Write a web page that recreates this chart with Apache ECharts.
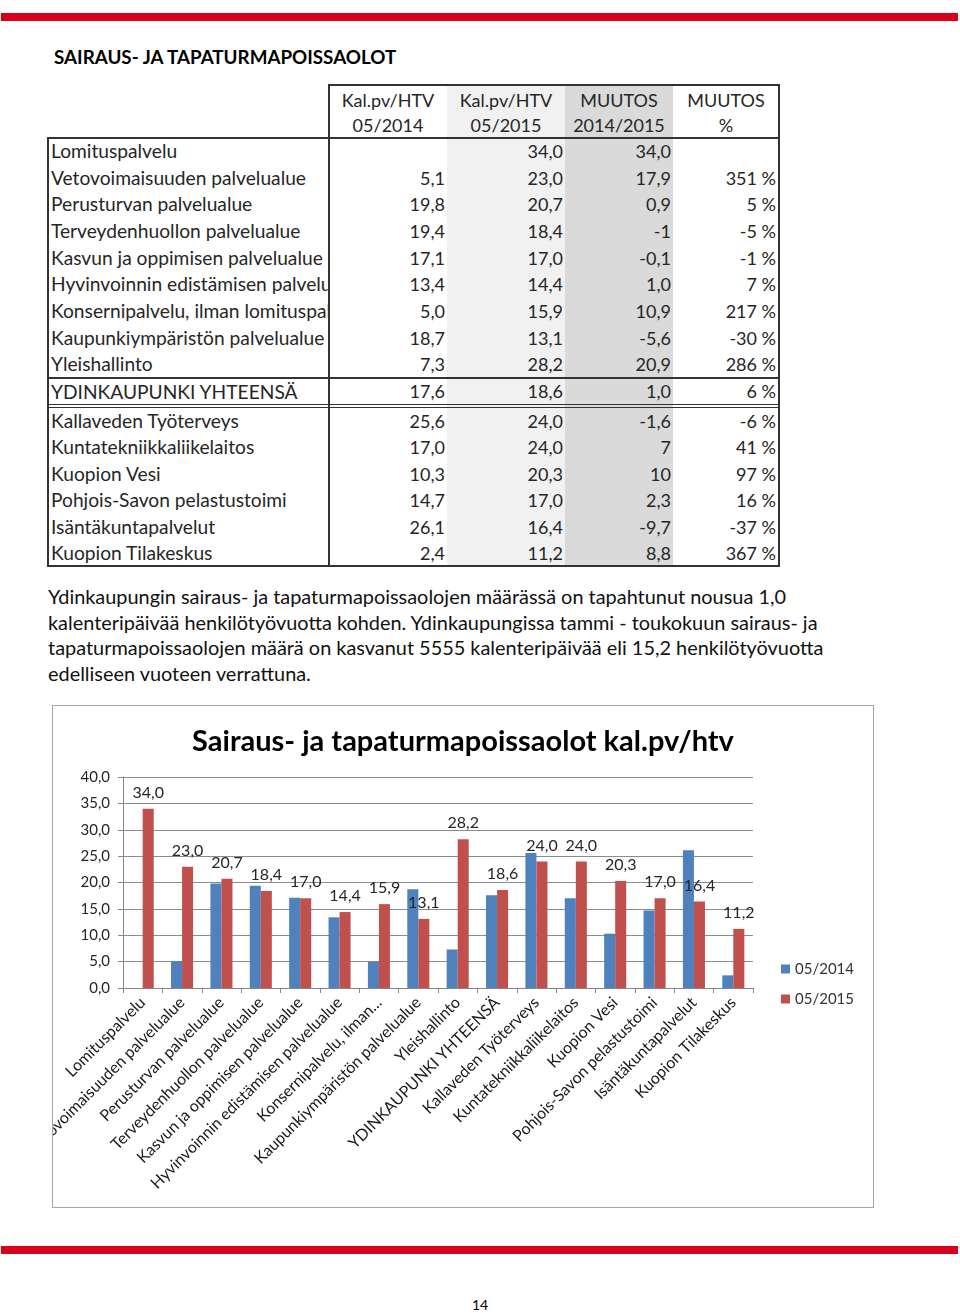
<!DOCTYPE html>
<html><head><meta charset="utf-8">
<script src="https://cdn.jsdelivr.net/npm/echarts@6/dist/echarts.min.js"></script>
<style>
html,body{margin:0;padding:0;background:#fff;}
body{width:960px;height:1313px;position:relative;overflow:hidden;font-family:Lato,'Noto Sans',sans-serif;color:#1a1a1a;}
.redline{position:absolute;left:1px;width:957px;height:8px;background:#d9001b;}
.h1{position:absolute;left:54px;top:45px;font-weight:bold;font-size:18.8px;line-height:24px;white-space:nowrap;color:#000;}
.cell{position:absolute;white-space:nowrap;overflow:hidden;font-size:18px;color:#262626;}
.lab{font-size:19.2px;}
.hl{position:absolute;background:#333;}
.para{position:absolute;left:48px;top:584px;font-size:19.9px;line-height:25.7px;white-space:nowrap;color:#111;}
#chartbox{position:absolute;left:52px;top:705px;width:822px;height:503px;box-sizing:border-box;border:1px solid #a6a6a6;}
#chart{position:absolute;left:0;top:0;width:820px;height:501px;}
.pnum{position:absolute;left:0;width:960px;top:1296px;text-align:center;font-size:14px;color:#000;}
</style></head>
<body>
<div class="redline" style="top:13px"></div>
<div class="h1">SAIRAUS- JA TAPATURMAPOISSAOLOT</div>
<div id="table"></div>
<div class="para">Ydinkaupungin sairaus- ja tapaturmapoissaolojen määrässä on tapahtunut nousua 1,0<br>kalenteripäivää henkilötyövuotta kohden. Ydinkaupungissa tammi - toukokuun sairaus- ja<br>tapaturmapoissaolojen määrä on kasvanut 5555 kalenteripäivää eli 15,2 henkilötyövuotta<br>edelliseen vuoteen verrattuna.</div>
<div id="chartbox"><div id="chart"></div></div>
<div class="redline" style="top:1246px"></div>
<div class="pnum">14</div>
<script>
// ---- data ----
const categories = ['Lomituspalvelu','Vetovoimaisuuden palvelualue','Perusturvan palvelualue','Terveydenhuollon palvelualue','Kasvun ja oppimisen palvelualue','Hyvinvoinnin edistämisen palvelualue','Konsernipalvelu, ilman lomituspalvelua','Kaupunkiympäristön palvelualue','Yleishallinto','YDINKAUPUNKI YHTEENSÄ','Kallaveden Työterveys','Kuntatekniikkaliikelaitos','Kuopion Vesi','Pohjois-Savon pelastustoimi','Isäntäkuntapalvelut','Kuopion Tilakeskus'];
const chartLabels = ['Lomituspalvelu','Vetovoimaisuuden palvelualue','Perusturvan palvelualue','Terveydenhuollon palvelualue','Kasvun ja oppimisen palvelualue','Hyvinvoinnin edistämisen palvelualue','Konsernipalvelu, ilman...','Kaupunkiympäristön palvelualue','Yleishallinto','YDINKAUPUNKI YHTEENSÄ','Kallaveden Työterveys','Kuntatekniikkaliikelaitos','Kuopion Vesi','Pohjois-Savon pelastustoimi','Isäntäkuntapalvelut','Kuopion Tilakeskus'];
const values2014 = [null,5.1,19.8,19.4,17.1,13.4,5.0,18.7,7.3,17.6,25.6,17.0,10.3,14.7,26.1,2.4];
const values2015 = [34.0,23.0,20.7,18.4,17.0,14.4,15.9,13.1,28.2,18.6,24.0,24.0,20.3,17.0,16.4,11.2];
const changeText = ['34,0','17,9','0,9','-1','-0,1','1,0','10,9','-5,6','20,9','1,0','-1,6','7','10','2,3','-9,7','8,8'];
const changePct = ['','351 %','5 %','-5 %','-1 %','7 %','217 %','-30 %','286 %','6 %','-6 %','41 %','97 %','16 %','-37 %','367 %'];
const seriesNames = ['05/2014','05/2015'];
const headers = [['Kal.pv/HTV','05/2014'],['Kal.pv/HTV','05/2015'],['MUUTOS','2014/2015'],['MUUTOS','%']];
const yTicks = {min:0,max:40,interval:5};

const fmt = v => (v==null? '' : v.toFixed(1).replace('.', ','));

// ---- table (HTML) ----
(function(){
  const t = document.getElementById('table');
  const add = (html) => t.insertAdjacentHTML('beforeend', html);
  const cols = [{l:329,r:447},{l:447,r:565},{l:565,r:673},{l:673,r:779}];
  add(`<div style="position:absolute;left:447px;top:86px;width:118px;height:480px;background:#f1f1f1"></div>`);
  add(`<div style="position:absolute;left:565px;top:86px;width:108px;height:480px;background:#dadada"></div>`);
  headers.forEach((h,i)=>{
    const c = cols[i];
    add(`<div class="cell" style="left:${c.l}px;width:${c.r-c.l}px;top:88px;text-align:center;line-height:25px">${h[0]}<br>${h[1]}</div>`);
  });
  const tops = [];
  for (let i=0;i<9;i++) tops.push([138+i*240/9, 240/9]);
  tops.push([378,27]);
  for (let i=0;i<6;i++) tops.push([408+i*26.4, 26.4]);
  categories.forEach((name,i)=>{
    const [y,h] = tops[i];
    add(`<div class="cell lab" style="left:51px;width:277px;top:${y}px;height:${h}px;line-height:${h}px">${name}</div>`);
    add(`<div class="cell" style="left:330px;width:115px;top:${y}px;height:${h}px;line-height:${h}px;text-align:right">${fmt(values2014[i])}</div>`);
    add(`<div class="cell" style="left:448px;width:115px;top:${y}px;height:${h}px;line-height:${h}px;text-align:right">${fmt(values2015[i])}</div>`);
    add(`<div class="cell" style="left:566px;width:105px;top:${y}px;height:${h}px;line-height:${h}px;text-align:right">${changeText[i]}</div>`);
    add(`<div class="cell" style="left:674px;width:102px;top:${y}px;height:${h}px;line-height:${h}px;text-align:right">${changePct[i]}</div>`);
  });
  const hline = (x1,x2,y,w) => add(`<div class="hl" style="left:${x1}px;top:${y}px;width:${x2-x1}px;height:${w}px"></div>`);
  const vline = (x,y1,y2,w) => add(`<div class="hl" style="left:${x}px;top:${y1}px;width:${w}px;height:${y2-y1}px"></div>`);
  hline(329,780,84,2);
  hline(47,780,137,2);
  hline(47,780,377,2);
  hline(47,780,404,1);
  hline(47,780,407,1);
  hline(47,780,565,2);
  vline(47,137,567,2);
  vline(328,84,567,2);
  vline(778,84,567,2);
})();

// ---- chart ----
const chart = echarts.init(document.getElementById('chart'));
const FONT = 'Lato, "Noto Sans", sans-serif';
chart.setOption({
  animation:false,
  textStyle:{fontFamily:FONT},
  title:{text:'Sairaus- ja tapaturmapoissaolot kal.pv/htv',left:'center',top:16,
    textStyle:{fontSize:29,fontWeight:'bold',color:'#000',fontFamily:FONT}},
  legend:{orient:'vertical',left:723,top:250,itemWidth:9,itemHeight:9,itemGap:14,icon:'rect',
    textStyle:{fontSize:15,color:'#333',lineHeight:16,fontFamily:FONT},data:seriesNames},
  grid:{left:70,top:71,width:630,height:211,containLabel:false,outerBoundsMode:'none'},
  xAxis:{type:'category',data:chartLabels,
    axisLine:{lineStyle:{color:'#868686',width:1}},
    axisTick:{show:true,length:5,alignWithLabel:false,lineStyle:{color:'#868686'}},
    axisLabel:{rotate:45,interval:0,fontSize:16,color:'#1a1a1a',margin:12,fontFamily:FONT}},
  yAxis:{type:'value',min:yTicks.min,max:yTicks.max,interval:yTicks.interval,
    axisLine:{show:true,lineStyle:{color:'#868686'}},
    axisTick:{show:true,length:5,lineStyle:{color:'#868686'}},
    splitLine:{lineStyle:{color:'#8c8c8c',width:1}},
    axisLabel:{fontSize:15,color:'#262626',margin:13,formatter:v=>v.toFixed(1).replace('.',','),fontFamily:FONT}},
  series:[
    {name:seriesNames[0],type:'bar',data:values2014,barGap:'0%',barCategoryGap:'44%',
      itemStyle:{color:'#4f81bd'}},
    {name:seriesNames[1],type:'bar',data:values2015,barGap:'0%',barCategoryGap:'44%',
      itemStyle:{color:'#c0504d'},
      label:{show:true,position:'top',distance:8,fontSize:16,color:'#262626',fontFamily:FONT,
        formatter:p=>fmt(p.value)}}
  ]
});
</script>
</body></html>
